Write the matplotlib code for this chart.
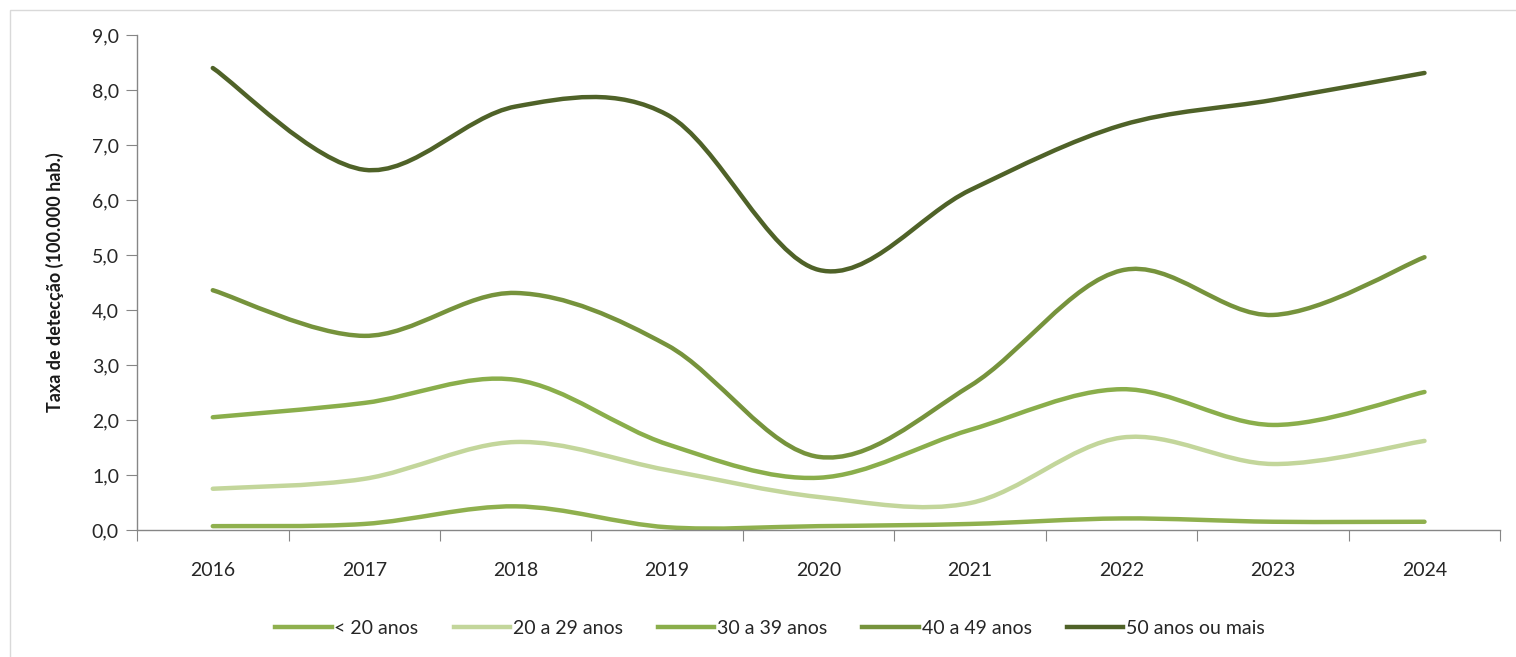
import matplotlib
matplotlib.use("Agg")
import matplotlib.pyplot as plt
from matplotlib.path import Path
from matplotlib.patches import PathPatch, Rectangle
from matplotlib.lines import Line2D
from matplotlib.ticker import FixedLocator, FuncFormatter

plt.rcParams['font.family'] = ['Lato', 'DejaVu Sans']

years = ["2016", "2017", "2018", "2019", "2020", "2021", "2022", "2023", "2024"]
menor_20 = [0.07, 0.11, 0.43, 0.05, 0.07, 0.11, 0.21, 0.15, 0.15]
de_20_29 = [0.75, 0.93, 1.60, 1.09, 0.60, 0.49, 1.68, 1.20, 1.62]
de_30_39 = [2.05, 2.31, 2.73, 1.56, 0.95, 1.82, 2.56, 1.91, 2.51]
de_40_49 = [4.36, 3.53, 4.31, 3.36, 1.33, 2.62, 4.72, 3.91, 4.96]
mais_50 = [8.40, 6.55, 7.70, 7.55, 4.73, 6.18, 7.36, 7.82, 8.31]

series = [
    ("< 20 anos", menor_20, "#8FB04E"),
    ("20 a 29 anos", de_20_29, "#C3D69B"),
    ("30 a 39 anos", de_30_39, "#8AAE4B"),
    ("40 a 49 anos", de_40_49, "#76933C"),
    ("50 anos ou mais", mais_50, "#4F6228"),
]


def smooth_path(xs, ys):
    """Catmull-Rom style smoothed path through the points (as cubic Beziers)."""
    n = len(xs)
    verts = [(xs[0], ys[0])]
    codes = [Path.MOVETO]
    for i in range(n - 1):
        x0, y0 = (xs[i - 1], ys[i - 1]) if i > 0 else (xs[i], ys[i])
        x1, y1 = xs[i], ys[i]
        x2, y2 = xs[i + 1], ys[i + 1]
        x3, y3 = (xs[i + 2], ys[i + 2]) if i + 2 < n else (xs[i + 1], ys[i + 1])
        c1 = (x1 + (x2 - x0) / 6.0, y1 + (y2 - y0) / 6.0)
        c2 = (x2 - (x3 - x1) / 6.0, y2 - (y3 - y1) / 6.0)
        verts += [c1, c2, (x2, y2)]
        codes += [Path.CURVE4] * 3
    return Path(verts, codes)


fig = plt.figure(figsize=(15.16, 6.57), dpi=100)
ax = fig.add_axes([0.0904, 0.1933, 0.8992, 0.7534])

# light outer frame of the chart area
fig.patches.append(Rectangle((10 / 1516, -0.05), 1.1, 0.05 + (657 - 10) / 657,
                             transform=fig.transFigure, fill=False,
                             edgecolor="#D9D9D9", linewidth=1.0))

x = list(range(len(years)))
handles = []
for label, vals, color in series:
    p = smooth_path(x, vals)
    ax.add_patch(PathPatch(p, facecolor="none", edgecolor=color, linewidth=3.2,
                           capstyle="round", joinstyle="round"))
    handles.append(Line2D([], [], color=color, linewidth=3.2, label=label))

ax.set_xlim(-0.5, len(years) - 0.5)
ax.set_ylim(0, 9)

ax.yaxis.set_major_locator(FixedLocator([i for i in range(10)]))
ax.yaxis.set_major_formatter(FuncFormatter(lambda v, _: f"{v:.1f}".replace(".", ",")))
ax.set_xticks([i - 0.5 for i in range(len(years) + 1)])
ax.set_xticklabels([])
ax.set_xticks(x, minor=True)
ax.set_xticklabels(years, minor=True)
ax.tick_params(axis="x", which="minor", length=0, pad=23, labelsize=14, labelcolor="#262626")
ax.tick_params(axis="x", which="major", length=8, color="#868686", direction="out")
ax.tick_params(axis="y", length=8, color="#868686", direction="out", pad=5,
               labelsize=14, labelcolor="#262626")

for s in ["top", "right"]:
    ax.spines[s].set_visible(False)
for s in ["left", "bottom"]:
    ax.spines[s].set_color("#868686")
    ax.spines[s].set_linewidth(1.0)

ax.set_ylabel("Taxa de detecção (100.000 hab.)", fontsize=13, fontweight="bold",
              color="#1a1a1a", labelpad=20)

fig.legend(handles=handles, loc="center", bbox_to_anchor=(770 / 1516, 1 - 628 / 657),
           ncol=5, frameon=False, fontsize=14, handlelength=2.9, handletextpad=0.15,
           columnspacing=1.8, labelcolor="#262626")

fig.savefig("out.png", dpi=100, facecolor="white")
